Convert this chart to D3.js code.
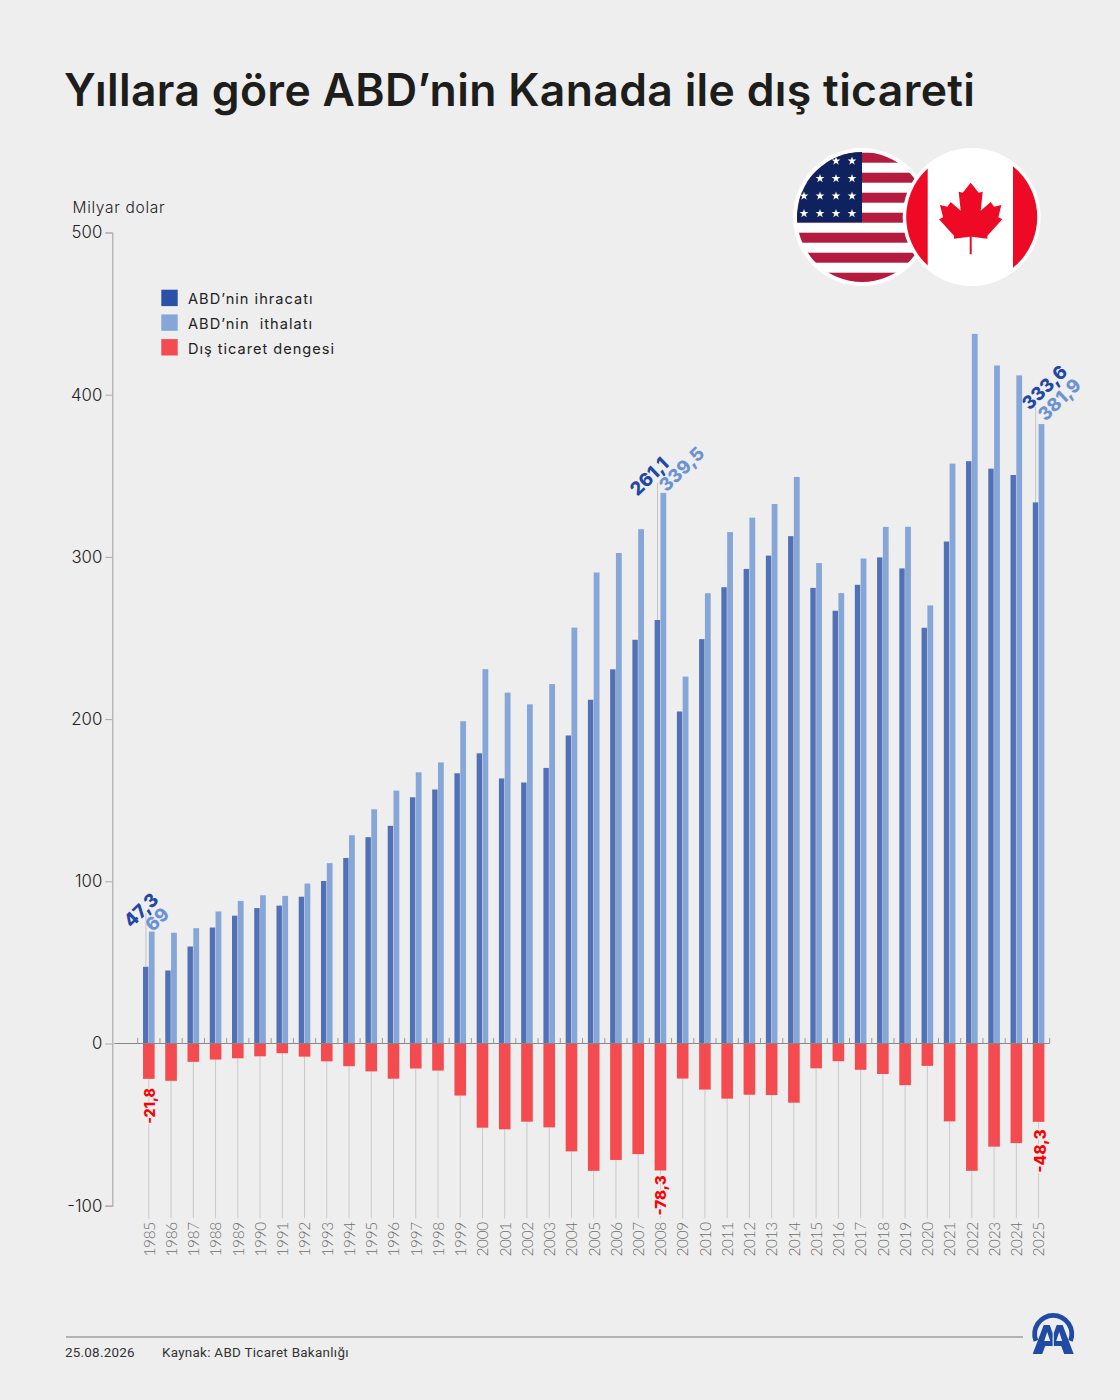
<!DOCTYPE html>
<html lang="tr">
<head>
<meta charset="utf-8">
<script src="https://cdn.jsdelivr.net/npm/d3@7"></script>
<style>
html,body{margin:0;padding:0;background:#eeeeee;}
svg{display:block;}
text{font-family:Inter,sans-serif;}
</style>
</head>
<body>
<div id="chart"></div>
<script>
const years = d3.range(1985, 2026).map(String);
const exportsUS = [47.3,45,59.8,71.5,78.8,83.5,85,90.5,100.2,114.4,127.2,134.2,151.8,156.6,166.6,178.9,163.4,160.9,169.9,189.9,211.9,230.7,248.9,261.1,204.7,249.3,281.3,292.6,300.8,312.8,280.9,266.8,282.8,299.7,292.9,256.3,309.5,359,354.4,350.5,333.6];
const importsUS = [69,68.3,71.1,81.4,87.9,91.4,91,98.6,111.2,128.4,144.4,155.9,167.2,173.3,198.7,230.8,216.3,209.1,221.6,256.4,290.4,302.4,317.1,339.5,226.2,277.6,315.3,324.2,332.6,349.3,296.2,277.7,299,318.5,318.6,270.1,357.5,437.5,418,411.9,381.9];
const balance = [-21.8,-23,-11.3,-9.9,-9.1,-7.9,-6,-8.1,-11,-14,-17.2,-21.7,-15.4,-16.7,-32.1,-51.9,-52.9,-48.2,-51.7,-66.5,-78.5,-71.8,-68.2,-78.3,-21.6,-28.4,-34,-31.6,-31.8,-36.5,-15.3,-10.9,-16.2,-18.8,-25.7,-13.8,-48,-78.5,-63.6,-61.4,-48.3];
const yTicks = [-100,0,100,200,300,400,500];
const annotatedYears = ["1985","2008","2025"];
const legendLabels = ["ABD’nin ihracatı","ABD’nin  ithalatı","Dış ticaret dengesi"];
const titleText = "Yıllara göre ABD’nin Kanada ile dış ticareti";
const unitText = "Milyar dolar";
const dateText = "25.08.2026";
const sourceText = "Kaynak: ABD Ticaret Bakanlığı";

const colExport="#5170b5", colImport="#87a6d8", colBalance="#f34b4f";
const legendColors=["#2b50a8",colImport,colBalance];
const bg="#eeeeee";
const fmt = v => String(v).replace(".",",");

const svg=d3.select("#chart").append("svg").attr("width",1120).attr("height",1400);
svg.append("rect").attr("width",1120).attr("height",1400).attr("fill",bg);

const x=d3.scaleBand().domain(years).range([137.7,1049.7]);
const y=d3.scaleLinear().domain([-100,500]).range([1205.7,232.5]);
const inner=d3.scaleBand().domain(["e","i"]).range([-5.8,5.8]);
const cx=yr=>x(yr)+x.bandwidth()/2;
const rows=years.map((yr,i)=>({yr,e:exportsUS[i],i:importsUS[i],b:balance[i]}));

// title
svg.append("text").attr("x",64).attr("y",105.5).attr("fill","#1d1d1b")
  .style("font-weight",600).style("font-size","44.5px")
  .attr("textLength",911).attr("lengthAdjust","spacing").text(titleText);

svg.append("text").attr("x",72.5).attr("y",212.5).attr("fill","#222")
  .style("font-size","15.5px").style("font-weight",300)
  .attr("textLength",92).attr("lengthAdjust","spacing").text(unitText);

// drop lines
svg.append("g").selectAll("line").data(rows).join("line")
  .attr("x1",d=>cx(d.yr)).attr("x2",d=>cx(d.yr))
  .attr("y1",d=>y(d.b)).attr("y2",y.range()[0]+12.5)
  .attr("stroke","#c9c9c9").attr("stroke-width",1);

// leader lines above annotated years
const leaderGap={"1985":18.5,"2008":10,"2025":17};
svg.append("g").selectAll("line").data(rows.filter(d=>annotatedYears.includes(d.yr))).join("line")
  .attr("x1",d=>cx(d.yr)+inner("e")+inner.bandwidth()/2).attr("x2",d=>cx(d.yr)+inner("e")+inner.bandwidth()/2)
  .attr("y1",d=>y(d.e)).attr("y2",d=>y(d.i)-leaderGap[d.yr])
  .attr("stroke","#c4c4c4").attr("stroke-width",1);

// bars
const bars=svg.append("g");
bars.selectAll(".e").data(rows).join("rect").attr("class","e")
  .attr("x",d=>cx(d.yr)+inner("e")).attr("width",inner.bandwidth()-0.4)
  .attr("y",d=>y(d.e)).attr("height",d=>y(0)-y(d.e)).attr("fill",colExport);
bars.selectAll(".i").data(rows).join("rect").attr("class","i")
  .attr("x",d=>cx(d.yr)+inner("i")).attr("width",inner.bandwidth())
  .attr("y",d=>y(d.i)).attr("height",d=>y(0)-y(d.i)).attr("fill",colImport);
bars.selectAll(".b").data(rows).join("rect").attr("class","b")
  .attr("x",d=>cx(d.yr)-5.8).attr("width",11.6)
  .attr("y",y(0)).attr("height",d=>y(d.b)-y(0)).attr("fill",colBalance);

// y axis
const yAxis=svg.append("g").attr("transform","translate(112.3,0)")
  .call(d3.axisLeft(y).tickValues(yTicks).tickFormat(String).tickSize(7).tickSizeOuter(7).tickPadding(3));
yAxis.select(".domain").attr("stroke","#aaa").attr("stroke-width",1.2);
yAxis.selectAll(".tick line").attr("stroke","#aaa");
yAxis.selectAll("text").attr("fill","#222").style("font-family","Inter").style("font-weight",300).style("font-size","16.8px");

// zero line and between-year ticks
const zero=svg.append("g");
zero.append("line").attr("x1",114.3).attr("x2",x.range()[1]).attr("y1",y(0)).attr("y2",y(0)).attr("stroke","#888").attr("stroke-width",1);
zero.selectAll(".t").data(years.concat(["end"])).join("line").attr("class","t")
  .attr("x1",(d,i)=>x.range()[0]+i*x.step()).attr("x2",(d,i)=>x.range()[0]+i*x.step())
  .attr("y1",y(0)).attr("y2",y(0)-5.5).attr("stroke","#999").attr("stroke-width",1);

// year labels
const xAxis=svg.append("g").attr("transform",`translate(0,${y.range()[0]})`)
  .call(d3.axisBottom(x).tickSize(0).tickSizeOuter(0));
xAxis.select(".domain").remove();
xAxis.selectAll("text").attr("fill","#6f6f6f").attr("text-anchor","end")
  .attr("transform","translate(5.8,16.5) rotate(-90)").attr("x",0).attr("y",0).attr("dy",0)
  .style("font-family","Lato").style("font-weight",300).style("font-size","15.4px").style("letter-spacing","-0.35px");

// legend
const lg=svg.append("g");
const legendWidths=[124.5,124,146];
legendLabels.forEach((t,i)=>{
  lg.append("rect").attr("x",161.3).attr("y",289.7+i*24.7).attr("width",16.4).attr("height",16.4).attr("fill",legendColors[i]);
  lg.append("text").attr("x",188).attr("y",303.5+i*25.4).attr("fill","#222")
    .style("font-size","14.6px").style("font-weight",400).style("white-space","pre")
    .attr("textLength",legendWidths[i]).attr("lengthAdjust","spacing").text(t);
});

// value annotations
const rot=[
 {yr:"1985",v:47.3,c:"#2347a5",dx:-17.5,dy:-3},
 {yr:"1985",v:69,c:"#6b93d3",dx:4,dy:1},
 {yr:"2008",v:261.1,c:"#2347a5",dx:-23,dy:4},
 {yr:"2008",v:339.5,c:"#6b93d3",dx:6,dy:0},
 {yr:"2025",v:333.6,c:"#2347a5",dx:-9,dy:-13},
 {yr:"2025",v:381.9,c:"#6b93d3",dx:7,dy:-2}
];
svg.append("g").selectAll("text").data(rot).join("text")
  .attr("transform",d=>{
    const r=rows.find(o=>o.yr===d.yr);
    return `translate(${cx(d.yr)+d.dx},${y(r.i)+d.dy}) rotate(-44)`;
  })
  .attr("fill",d=>d.c).style("font-weight",800).style("font-size","18.5px")
  .text(d=>fmt(d.v));

const neg=[{yr:"1985",v:-21.8,off:45,s:14.2,dx:6.5},{yr:"2008",v:-78.3,off:45,s:15.2,dx:6},{yr:"2025",v:-48.3,off:51,s:15.6,dx:7.5}];
svg.append("g").selectAll("text").data(neg).join("text")
  .attr("transform",d=>`translate(${cx(d.yr)+d.dx},${y(d.v)+d.off}) rotate(-90)`)
  .attr("fill","#ff0000").style("font-weight",800).style("font-size",d=>d.s+"px")
  .style("stroke",bg).style("stroke-width","3px").style("paint-order","stroke")
  .text(d=>fmt(d.v));

// flags
const defs=svg.append("defs");
defs.append("clipPath").attr("id","cUS").append("circle").attr("cx",862).attr("cy",217).attr("r",65);
const us=svg.append("g");
us.append("circle").attr("cx",862).attr("cy",217).attr("r",69).attr("fill","#fff");
const usc=us.append("g").attr("clip-path","url(#cUS)");
usc.append("rect").attr("x",790).attr("y",150).attr("width",145).attr("height",135).attr("fill","#fff");
d3.range(7).forEach(i=>usc.append("rect").attr("x",790).attr("y",152.7+i*20).attr("width",145).attr("height",10).attr("fill","#b41c3f"));
usc.append("rect").attr("x",790).attr("y",150).attr("width",72).attr("height",72.3).attr("fill","#10225e");
const starPath=d3.symbol().type(d3.symbolStar).size(24)();
[[836,161],[852,161],[820,178.5],[836,178.5],[852,178.5],[804,196],[820,196],[836,196],[852,196],[804,213.5],[820,213.5],[836,213.5],[852,213.5]]
 .forEach(p=>usc.append("path").attr("d",starPath).attr("transform",`translate(${p[0]},${p[1]})`).attr("fill","#fff"));

defs.append("clipPath").attr("id","cCA").append("circle").attr("cx",971.7).attr("cy",217).attr("r",65.5);
const ca=svg.append("g");
ca.append("circle").attr("cx",971.7).attr("cy",217).attr("r",69).attr("fill","#fff");
const cac=ca.append("g").attr("clip-path","url(#cCA)");
cac.append("rect").attr("x",900).attr("y",145).attr("width",27.7).attr("height",145).attr("fill","#ee0a24");
cac.append("rect").attr("x",1013).attr("y",145).attr("width",30).attr("height",145).attr("fill","#ee0a24");
const half=[[0,128],[24,158],[36,155],[30,212],[60,186],[70,200],[92,195],[83,232],[95,238],[50,287],[50,296],[3,290],[3,343]];
const leafPts=half.concat(half.slice().reverse().map(p=>[-p[0],p[1]]));
cac.append("path").attr("fill","#ee0a24")
  .attr("d",d3.line().x(p=>970.7+p[0]/3).y(p=>140+p[1]/3)(leafPts)+"Z");

// footer
svg.append("line").attr("x1",66).attr("x2",1023).attr("y1",1337).attr("y2",1337).attr("stroke","#777").attr("stroke-width",1);
svg.append("text").attr("x",65).attr("y",1356.5).attr("fill","#333").style("font-family","Roboto").style("font-size","13.4px").style("letter-spacing","0.25px").text(dateText);
svg.append("text").attr("x",162).attr("y",1356.5).attr("fill","#333").style("font-family","Roboto").style("font-size","13.4px").style("letter-spacing","0.3px").text(sourceText);

// agency mark
const logo=svg.append("g").attr("fill","#1f4ba5").attr("transform","translate(1053.2,1334)");
logo.append("path").attr("d",d3.arc().innerRadius(16.2).outerRadius(21).startAngle(-1.95).endAngle(1.95)());
const aPath="M-20.5,20 L-9.5,-9 L-3.5,-9 L-0.6,-1 L-0.6,12 L-8,12 L-11,20 Z M-9,7 L-3,7 L-6,-2 Z";
logo.append("path").attr("fill-rule","evenodd").attr("d",aPath);
logo.append("path").attr("fill-rule","evenodd").attr("d",aPath).attr("transform","scale(-1,1)");
</script>
</body>
</html>
